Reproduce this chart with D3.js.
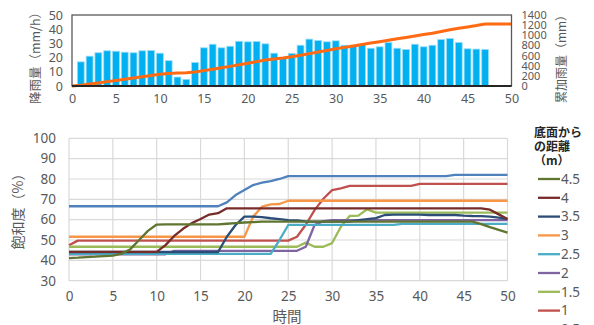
<!DOCTYPE html>
<html><head><meta charset="utf-8">
<script src="https://cdn.jsdelivr.net/npm/d3@7/dist/d3.min.js"></script>
<style>
body{margin:0;background:#fff;}
svg{display:block;font-family:"Noto Sans CJK JP","Noto Sans",sans-serif;}
</style></head>
<body><svg id="c" width="594" height="325"></svg>
<script>
// ---------- DATA ----------
const hours = [0,1,2,3,4,5,6,7,8,9,10,11,12,13,14,15,16,17,18,19,20,21,22,23,24,25,26,27,28,29,30,31,32,33,34,35,36,37,38,39,40,41,42,43,44,45,46,47,48,49,50];
const rainHours = [1,2,3,4,5,6,7,8,9,10,11,12,13,14,15,16,17,18,19,20,21,22,23,24,25,26,27,28,29,30,31,32,33,34,35,36,37,38,39,40,41,42,43,44,45,46,47];
const rainfall = [17,21,23.4,24.8,24.5,23.8,23.4,24.8,25,23.1,17.8,6.3,4.7,16.6,26.9,29.4,26.9,28,31.5,31.1,31.3,29.7,23.1,19.4,23,28.7,33,32,31.1,31.8,28.7,28.7,29.2,26.6,27.6,30.6,26.6,25.7,29.4,27.6,28.7,32.7,33.4,30.6,26.2,26,25.7];
const cumulative = [0,17,38,61,86,110,134,158,182,207,230,248,255,260,276,303,332,359,387,419,450,481,511,534,553,576,605,638,670,701,733,762,790,820,846,874,904,931,957,986,1014,1042,1075,1109,1139,1165,1191,1222,1222,1222,1222];
const rainTicks = [0,10,20,30,40,50];
const cumTicks = [0,200,400,600,800,1000,1200,1400];
const timeTicks = [0,5,10,15,20,25,30,35,40,45,50];
const satTicks = [30,40,50,60,70,80,90,100];

const seriesNames = ["0.5","1","1.5","2","2.5","3","3.5","4","4.5"];
const s05 = [66.6,66.6,66.6,66.6,66.6,66.6,66.6,66.6,66.6,66.6,66.6,66.6,66.6,66.6,66.6,66.6,66.6,66.6,68.5,72.1,74.6,77,78.2,79,80,81.4,81.4,81.4,81.4,81.4,81.4,81.4,81.4,81.4,81.4,81.4,81.4,81.4,81.4,81.4,81.4,81.4,81.4,81.4,82,82,82,82,82,82,82];
const s1 = [47.4,49.7,49.7,49.7,49.7,49.7,49.7,49.7,49.7,49.7,49.7,49.7,49.7,49.7,49.7,49.7,49.7,49.7,49.7,49.7,49.7,49.7,49.7,49.7,49.7,49.7,51.6,57.5,64.7,70.3,74.5,75.4,76.6,76.6,76.6,76.6,76.6,76.6,76.6,76.6,77.6,77.6,77.6,77.6,77.6,77.6,77.6,77.6,77.6,77.6,77.6];
const s15 = [46.7,46.7,46.7,46.7,46.7,46.7,46.7,46.7,46.7,46.7,46.7,46.7,46.7,46.7,46.7,46.7,46.7,46.7,46.7,46.7,46.7,46.7,46.7,46.7,46.7,46.7,46.7,48.7,46.7,46.7,48.5,56.5,61.8,62,65.1,63.5,63.5,63.5,63.5,63.5,63.5,63.5,63.5,63.5,63.5,63.5,63.5,63.5,63.5,63.5,63.5];
const s2 = [43,43,43,43,43,43,43,43,43,43,43,43,44.7,44.7,44.7,44.7,44.7,44.7,44.7,44.7,44.7,44.7,44.7,44.7,44.7,44.7,44.7,46.7,57.4,59.3,59.8,59.8,59.8,59.8,59.8,59.8,59.8,59.8,59.8,59.8,59.8,59.8,59.8,59.8,59.8,59.8,59.8,59.8,59.8,59.8,59.8];
const s25 = [43.2,43.2,43.2,43.2,43.2,43.2,43.2,43.2,43.2,43.2,43.2,43.2,43.2,43.2,43.2,43.2,43.2,43.2,43.2,43.2,43.2,43.2,43.2,43.2,50,57.4,57.4,57.4,57.4,57.4,57.4,57.4,57.4,57.4,57.4,57.4,57.4,57.4,57.9,57.9,57.9,57.9,57.9,57.9,57.9,57.9,57.9,57.9,57.9,57.9,57.9];
const s3 = [51.6,51.6,51.6,51.6,51.6,51.6,51.6,51.6,51.6,51.6,51.6,51.6,51.6,51.6,51.6,51.6,51.6,51.6,51.6,51.6,51.6,61.5,66.4,67.5,67.7,69.3,69.3,69.3,69.3,69.3,69.3,69.3,69.3,69.3,69.3,69.3,69.3,69.3,69.3,69.3,69.3,69.3,69.3,69.3,69.3,69.3,69.3,69.3,69.3,69.3,69.3];
const s35 = [44.1,44.1,44.1,44.1,44.1,44.1,44.1,44.1,44.1,44.1,44.1,44.1,44.1,44.1,44.1,44.1,44.1,44.1,51.6,57.4,61.5,61.5,61.3,60.7,60.3,59.8,59.6,59.2,59,59,59,59,59,59.8,60.3,60.8,62.3,62.5,62.5,62.5,62.5,62.3,62.3,62.3,62.3,62,61.8,61.7,61.5,61,60.3];
const s4 = [44.2,44.2,44.2,44.2,44.2,44.2,44.2,44.2,44.2,44.2,44.2,47.5,52,55.5,58.3,60.3,62.5,63.2,65.6,65.6,65.6,65.6,65.6,65.6,65.6,65.6,65.6,65.6,65.6,65.6,65.6,65.6,65.6,65.6,65.6,65.6,65.6,65.6,65.6,65.6,65.6,65.6,65.6,65.6,65.6,65.6,65.6,65.6,64.9,62.6,60.3];
const s45 = [41.1,41.3,41.6,41.8,42.1,42.3,43.3,45.5,50,54.5,57.6,57.7,57.7,57.7,57.7,57.7,57.7,57.7,58,58.3,58.6,58.8,59,59,59,59,59,59,59,59,59,59,59,59,59,59,59,59,59,59,59,59,59,59,59,59,59,57.8,56.3,55,53.6];
const seriesValues = [s05,s1,s15,s2,s25,s3,s35,s4,s45];
const seriesColors = ["#4F81BD","#C0504D","#9BBB59","#8064A2","#4BACC6","#F79646","#2C4D75","#772C2A","#5F7530"];
const legendOrder = ["4.5","4","3.5","3","2.5","2","1.5","1","0.5"];

// ---------- DRAW ----------
const svg = d3.select("#c");
svg.append("rect").attr("width",594).attr("height",325).attr("fill","#fff");
const txt = "#595959";

// Top chart
const xT = d3.scaleLinear().domain([0,50]).range([72,511.5]);
const yR = d3.scaleLinear().domain([0,50]).range([86,15]);
const yC = d3.scaleLinear().domain([0,1400]).range([86,15]);
const bw = (xT(1)-xT(0))*0.78;
const gTop = svg.append("g");
gTop.selectAll("rect.bar").data(rainHours).enter().append("rect")
  .attr("class","bar")
  .attr("x",(d)=>xT(d)-bw/2)
  .attr("y",(d,i)=>yR(rainfall[i]))
  .attr("width",bw)
  .attr("height",(d,i)=>yR(0)-yR(rainfall[i]))
  .attr("fill","#00B0F0").attr("stroke","#9ADCF7").attr("stroke-width",0.8);
gTop.append("path").datum(hours)
  .attr("d",d3.line().x(d=>xT(d)).y((d,i)=>yC(cumulative[i])))
  .attr("fill","none").attr("stroke","#FF6A13").attr("stroke-width",3).attr("stroke-linejoin","round");
// frame
gTop.append("rect").attr("x",xT(0)).attr("y",yR(50)).attr("width",xT(50)-xT(0)).attr("height",yR(0)-yR(50))
  .attr("fill","none").attr("stroke","#595959").attr("stroke-width",1.3);
gTop.append("line").attr("x1",xT(0)).attr("x2",xT(50)).attr("y1",yR(0)).attr("y2",yR(0))
  .attr("stroke","#262626").attr("stroke-width",2);

function styleAxis(g,size){
  g.select(".domain").remove();
  g.selectAll("line").remove();
  g.selectAll("text").attr("fill",txt).style("font-size",size+"px").style("font-family",'"Noto Sans","Noto Sans CJK JP",sans-serif');
}
gTop.append("g").attr("transform",`translate(${xT(0)},0)`)
  .call(d3.axisLeft(yR).tickValues(rainTicks).tickSize(0).tickPadding(9))
  .call(g=>styleAxis(g,12.5));
gTop.append("g").attr("transform",`translate(${xT(50)},0)`)
  .call(d3.axisRight(yC).tickValues(cumTicks).tickFormat(d3.format("d")).tickSize(0).tickPadding(10))
  .call(g=>styleAxis(g,11));
gTop.append("g").attr("transform",`translate(0,${yR(0)})`)
  .call(d3.axisBottom(xT).tickValues(timeTicks).tickSize(0).tickPadding(8))
  .call(g=>styleAxis(g,12.5));
gTop.append("text").attr("transform","translate(40,55) rotate(-90)")
  .attr("text-anchor","middle").attr("fill",txt).style("font-size","12.5px").text("降雨量（mm/h）");
gTop.append("text").attr("transform","translate(566,56) rotate(-90)")
  .attr("text-anchor","middle").attr("fill",txt).style("font-size","12px").text("累加雨量（mm）");

// Bottom chart
const xB = d3.scaleLinear().domain([0,50]).range([69,507.5]);
const yB = d3.scaleLinear().domain([30,100]).range([280.7,138.3]);
const gBot = svg.append("g");
gBot.selectAll("line.hg").data(satTicks).enter().append("line").attr("class","hg")
  .attr("x1",xB(0)).attr("x2",xB(50)).attr("y1",d=>yB(d)).attr("y2",d=>yB(d))
  .attr("stroke","#D9D9D9").attr("stroke-width",1.2);
gBot.selectAll("line.vg").data(timeTicks).enter().append("line").attr("class","vg")
  .attr("y1",yB(30)).attr("y2",yB(100)).attr("x1",d=>xB(d)).attr("x2",d=>xB(d))
  .attr("stroke","#D9D9D9").attr("stroke-width",1.2);
const lineGen = (vals)=>d3.line().x(d=>xB(d)).y((d,i)=>yB(vals[i]))(hours);
seriesValues.forEach((vals,k)=>{
  gBot.append("path").attr("d",lineGen(vals)).attr("fill","none")
    .attr("stroke",seriesColors[k]).attr("stroke-width",2.3).attr("stroke-linejoin","round");
});
gBot.append("g").attr("transform",`translate(${xB(0)},0)`)
  .call(d3.axisLeft(yB).tickValues(satTicks).tickSize(0).tickPadding(13))
  .call(g=>styleAxis(g,13.5));
gBot.append("g").attr("transform",`translate(0,${yB(30)})`)
  .call(d3.axisBottom(xB).tickValues(timeTicks).tickSize(0).tickPadding(11))
  .call(g=>styleAxis(g,13.5));
gBot.append("text").attr("x",287).attr("y",322).attr("text-anchor","middle")
  .attr("fill",txt).style("font-size","14.5px").text("時間");
gBot.append("text").attr("transform","translate(23,208) rotate(-90)")
  .attr("text-anchor","middle").attr("fill",txt).style("font-size","14px").text("飽和度（%）");

// Legend
const lg = svg.append("g");
["底面から","の距離","（m）"].forEach((t,i)=>{
  lg.append("text").attr("x",534).attr("y",[136.5,150.5,164.5][i])
    .attr("fill","#262626").style("font-size","12px").style("font-weight","bold").text(t);
});
legendOrder.forEach((name,i)=>{
  const k = seriesNames.indexOf(name);
  const y = 179 + i*18.8;
  lg.append("line").attr("x1",538).attr("x2",560).attr("y1",y).attr("y2",y)
    .attr("stroke",seriesColors[k]).attr("stroke-width",2.3);
  lg.append("text").attr("x",561).attr("y",y).attr("dy","0.35em")
    .attr("fill",txt).style("font-size","13.5px").style("font-family",'"Noto Sans",sans-serif').text(name);
});
</script></body></html>
